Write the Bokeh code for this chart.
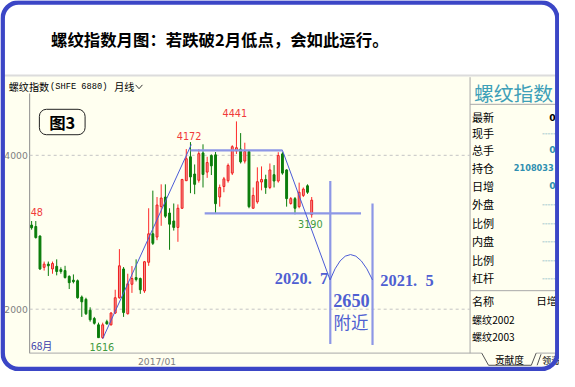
from bokeh.plotting import figure
from bokeh.models import Range1d, ColumnDataSource, BoxAnnotation
from bokeh.embed import file_html
from bokeh.resources import INLINE
from bokeh.core.properties import value

# ------------------------------------------------------------------ data
first_month = "2014/07"          # month index 0
month_idx = list(range(68))
opens = [3093, 3075, 2951, 2544, 2586, 2523, 2557, 2515, 2502, 2427,
         2377, 2370, 2158, 2128, 1987, 1879, 1797, 1630, 1838, 1797,
         1950, 2149, 2523, 1941, 2324, 2411, 2399, 2237, 2610, 2980,
         2938, 3333, 3458, 3250, 3146, 3063, 3312, 3670, 3981, 3757,
         3676, 4031, 3782, 3997, 4006, 3458, 3595, 3670, 3769, 4056,
         4081, 3925, 4050, 3312, 3395, 3653, 3686, 3582, 3748, 3666,
         4018, 3810, 3374, 3437, 3333, 3479, 3604, 3230]
highs = [3146, 3146, 2959, 2619, 2619, 2619, 2648, 2544, 2564, 2440,
         2452, 2386, 2178, 2149, 2025, 1900, 1825, 1825, 1863, 1963,
         2253, 2781, 2548, 2461, 2561, 2648, 2411, 2627, 3312, 3541,
         3458, 3623, 3623, 3312, 3374, 3362, 3694, 4081, 4172, 3881,
         4081, 4143, 3981, 4012, 4043, 3620, 3719, 3894, 4131, 4441,
         4289, 4164, 4060, 3582, 3844, 3856, 3748, 3894, 3873, 4040,
         4040, 3819, 3458, 3458, 3645, 3582, 3623, 3458]
lows = [3034, 2918, 2511, 2502, 2432, 2461, 2440, 2461, 2399, 2262,
        2336, 2137, 1900, 1925, 1838, 1800, 1626, 1616, 1800, 1788,
        1938, 2137, 1900, 1931, 2212, 2361, 2199, 2212, 2564, 2835,
        2897, 3084, 3187, 2772, 3022, 2876, 3304, 3666, 3508, 3495,
        3645, 3582, 3707, 3744, 3246, 3333, 3520, 3645, 3744, 4018,
        3894, 3894, 3312, 3308, 3371, 3545, 3499, 3561, 3582, 3645,
        3748, 3333, 3358, 3233, 3312, 3458, 3499, 3190]
closes = [3059, 2931, 2523, 2586, 2564, 2594, 2490, 2490, 2411, 2345,
          2358, 2149, 2096, 1941, 1863, 1817, 1630, 1797, 1809, 1950,
          2149, 2564, 1956, 2330, 2399, 2386, 2253, 2617, 2980, 2856,
          3354, 3445, 3209, 3105, 3063, 3312, 3686, 3956, 3719, 3623,
          4022, 3751, 3906, 3863, 3371, 3582, 3694, 3869, 4112, 4099,
          3915, 4050, 3333, 3479, 3657, 3686, 3582, 3810, 3666, 3997,
          3769, 3437, 3437, 3312, 3520, 3561, 3520, 3417]

price_ticks = [2000, 4000]
price_tick_labels = ["2000", "4000"]
date_ticks = [30]
date_tick_labels = ["2017/01"]

# analyst's hand drawing, in (month index, price)
trend_up_x, trend_up_y = [17, 38.2], [1616, 4140]
range_top_x, range_top_y = [38, 60], [4065, 4065]
support_x, support_y = [41.4, 78.8], [3246, 3246]
trend_down_x, trend_down_y = [60, 71.4], [4065, 2380]
arc_x, arc_y = [71.4, 76.1, 81.55], [2380, 3040, 2380]   # start, control, end
vline_x = [71.45, 81.55]
vline_top = [3666, 3374]
vline_bottom = [1548, 1535]
proj_dates = ["2020.\u00a0\u00a07", "2021.\u00a0\u00a05"]
proj_price = ["2650", "附近"]

title_text = "螺纹指数月图：若跌破2月低点，会如此运行。"
panel_rows = ["最新", "现手", "总手", "持仓", "日增", "外盘", "比例", "内盘", "比例", "杠杆"]
panel_vals = ["0", "-----", "0", "2108033", "0", "-----", "-----", "-----", "-----", "-----"]
contract_names = ["螺纹2002", "螺纹2003"]

# ------------------------------------------------------------------ figure
W, H = 559, 371
S = 0.965   # font scale (reference px -> page px)
CREAM = "#fffff0"
BLUE_T = "#4b5bd6"
BLUE_K = "#8d97e6"

p = figure(width=W, height=H, x_range=Range1d(0, 575), y_range=Range1d(387, 0),
           min_border=0, toolbar_location=None, output_backend="svg",
           x_axis_type=None, y_axis_type=None)
p.outline_line_color = None
p.background_fill_color = "white"
p.border_fill_color = "white"

p.extra_x_ranges = {"m": Range1d(-32 / 4.3, (575 - 32) / 4.3)}
p.extra_y_ranges = {"pr": Range1d(4000 - (387 - 161.5) * 12.46, 4000 + 161.5 * 12.46)}


def txt(x, y, s, size, color="#000000", align="left", baseline="middle",
        font="Noto Sans CJK SC", style="normal", **kw):
    p.text(x=[x], y=[y], text=[s], text_font=value(font),
           text_font_size=f"{size * S:.1f}px", text_color=color,
           text_align=align, text_baseline=baseline, text_font_style=style, **kw)


def seg(x0, y0, x1, y1, color="#a0a0a0", width=1, **kw):
    p.segment(x0=[x0], y0=[y0], x1=[x1], y1=[y1], line_color=color, line_width=width, **kw)


# screenshot background (cream) with rounded bottom corners
p.add_layout(BoxAnnotation(left=2, right=573, top=79, bottom=385, fill_color=CREAM,
                           fill_alpha=1, line_alpha=0, border_radius=(0, 0, 16, 16),
                           level="underlay"))
# 图3 box (under the text)
p.add_layout(BoxAnnotation(left=40, right=87, top=113.5, bottom=140, fill_color=CREAM,
                           fill_alpha=1, line_color="#222222", line_alpha=1, line_width=1,
                           border_radius=7, level="underlay"))
seg(2, 78.3, 573, 78.3, color="#dcdcdc", width=2)

# title
txt(52, 40, title_text, 17, style="bold")

# chart header
txt(8.5, 90, "螺纹指数", 10.5)
txt(51, 90, "(SHFE 6880)", 9, font="Liberation Mono")
txt(117, 90, "月线", 10.5)
p.line([139, 142.5, 146], [88, 92, 88], line_color="#333333", line_width=1)

# chart frame lines
seg(30, 97, 30, 368, color="#8c8c8c")
seg(30, 367.8, 495, 367.8, color="#a8a8a8")
seg(483, 80, 483, 368, color="#a8a8a8")

# grid + price labels
p.segment(x0=[30] * len(price_ticks), x1=[483] * len(price_ticks), y0=price_ticks, y1=price_ticks,
          y_range_name="pr", line_color="#c4c4c4", line_dash="3 3", line_width=1)
p.text(x=[28] * len(price_ticks), y=price_ticks, text=price_tick_labels, y_range_name="pr",
       text_font=value("DejaVu Sans"), text_font_size=f"{9.5 * S:.1f}px", text_color="#808080",
       text_align="right", text_baseline="middle")
p.text(x=date_ticks, y=[377] * len(date_ticks), text=date_tick_labels, x_range_name="m",
       text_font=value("DejaVu Sans"), text_font_size=f"{9.5 * S:.1f}px", text_color="#808080",
       text_align="center", text_baseline="middle")

# candles
up = [c >= o for o, c in zip(opens, closes)]
src = ColumnDataSource(dict(
    x=month_idx, h=highs, l=lows,
    top=[max(o, c) for o, c in zip(opens, closes)],
    bot=[min(o, c) for o, c in zip(opens, closes)],
    fill=["#f59a9a" if u else "#0b7d0b" for u in up],
    line=["#ee1c1c" if u else "#0b7d0b" for u in up],
    wick=["#ff2a2a" if u else "#0b7d0b" for u in up],
))
p.segment(x0="x", y0="h", x1="x", y1="l", line_color="wick", line_width=1, source=src,
          x_range_name="m", y_range_name="pr")
p.vbar(x="x", width=0.45, top="top", bottom="bot", fill_color="fill", line_color="line",
       line_width=1, source=src, x_range_name="m", y_range_name="pr")

# extreme labels
txt(241, 117.5, str(max(highs)), 10, color="#f03a3a", align="center", font="DejaVu Sans")
txt(194, 141, str(max(highs[:45])), 10, color="#f03a3a", align="center", font="DejaVu Sans")
txt(104.3, 361, str(min(lows)), 10, color="#3f9a3f", align="center", font="DejaVu Sans")
txt(318.7, 233.5, str(lows[-1]), 10, color="#3f9a3f", align="center", font="DejaVu Sans")
txt(31, 221, "48", 10, color="#f03a3a", font="DejaVu Sans")
txt(31.5, 360, "68月", 10.5, color="#3838a8")

txt(63.5, 127, "图3", 17, align="center", style="bold")

# analyst drawing
kw = dict(x_range_name="m", y_range_name="pr")
p.line(range_top_x, range_top_y, line_color=BLUE_K, line_width=2.2, **kw)
p.line(support_x, support_y, line_color=BLUE_K, line_width=2.2, **kw)
p.segment(x0=vline_x, y0=vline_top, x1=vline_x, y1=vline_bottom, line_color=BLUE_K,
          line_width=2.2, **kw)
p.line(trend_up_x, trend_up_y, line_color=BLUE_T, line_width=1, **kw)
p.line(trend_down_x, trend_down_y, line_color=BLUE_T, line_width=1, **kw)
p.quadratic(x0=[arc_x[0]], y0=[arc_y[0]], cx=[arc_x[1]], cy=[arc_y[1]],
            x1=[arc_x[2]], y1=[arc_y[2]], line_color=BLUE_T, line_width=1, **kw)

TXT_B = "#4f5fd2"
txt(337, 290, proj_dates[0], 17, color=TXT_B, align="right", font="Liberation Serif", style="bold")
txt(390.7, 291.7, proj_dates[1], 17, color=TXT_B, font="Liberation Serif", style="bold")
txt(361, 312.7, proj_price[0], 19, color=TXT_B, align="center", font="Liberation Serif",
    style="bold")
txt(360.5, 335, proj_price[1], 18, color=TXT_B, align="center")

# right panel
seg(483, 108.3, 572, 108.3, color="#a8a8a8")
seg(483, 302.7, 572, 302.7, color="#a8a8a8")
txt(487, 96, "螺纹指数", 20.5, color="#3ea0b8")
row_y = [121.7, 138.2, 155.5, 174.3, 193.3, 212.3, 231.8, 251.2, 270.4, 289.3]
for lab, val, yy in zip(panel_rows, panel_vals, row_y):
    txt(485, yy, lab, 11.5)
    if val == "-----":
        txt(557, yy, val, 8, color="#6aaabb", font="DejaVu Sans")
    elif val == "0":
        txt(564.5, yy, val, 9.5, color="#000000" if lab == "最新" else "#2f8fb0",
            font="DejaVu Sans", style="bold")
    else:
        txt(528, yy, val, 8.5, color="#2f8fb0", font="DejaVu Sans", style="bold")
txt(485, 313.3, "名称", 11.5)
txt(551, 313.3, "日增", 11)
txt(485, 332.3, contract_names[0], 10.5)
txt(485, 351, contract_names[1], 10.5)

# tabs
seg(551, 367.8, 573, 367.8, color="#a8a8a8")
p.line([495, 502, 546, 551], [367.8, 380.5, 380.5, 367.8], line_color="#555555", line_width=1)
p.line([552, 556], [380.5, 369], line_color="#555555", line_width=1)
txt(523.5, 374.5, "贡献度", 10, align="center")
txt(557, 374.5, "领涨", 9.5)

# outer blue rounded frame
p.add_layout(BoxAnnotation(left=2.25, right=572.75, top=2, bottom=384.5, fill_alpha=0,
                           line_color="#3b46c6", line_alpha=1, line_width=4.5,
                           border_radius=16, level="overlay"))

open("out.html", "w").write(file_html(p, INLINE))
